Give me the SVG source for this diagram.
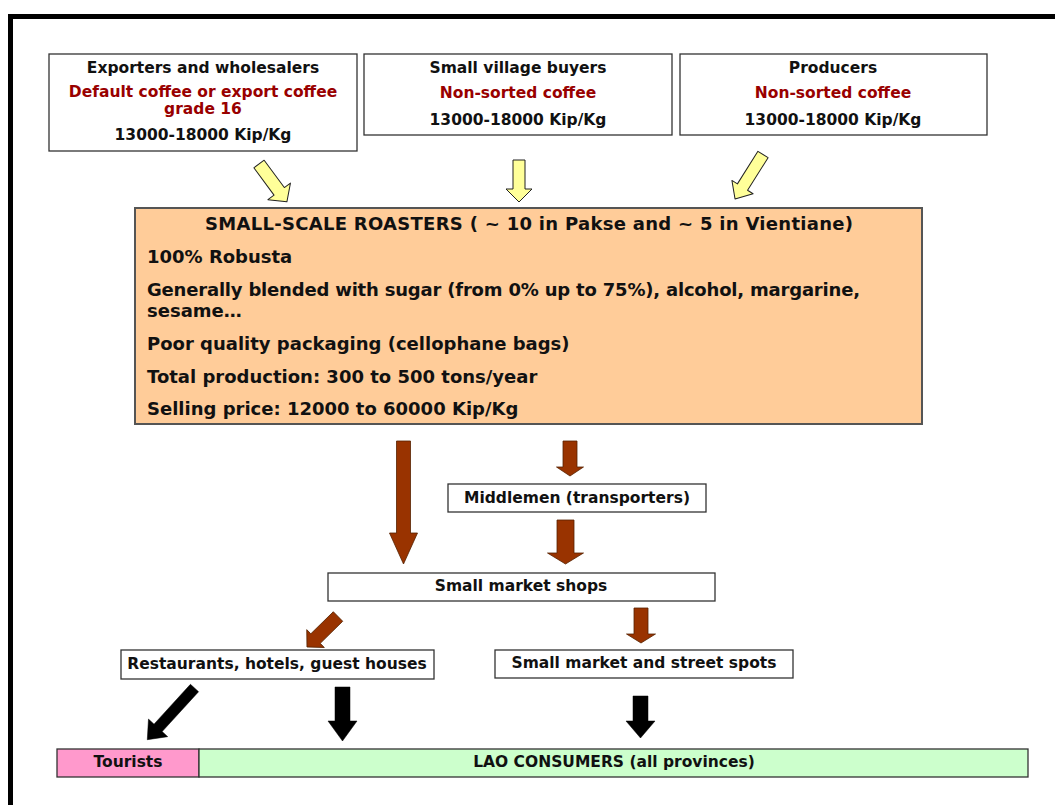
<svg xmlns="http://www.w3.org/2000/svg" width="1055" height="805" viewBox="0 0 1055 805">
<style>
  text { font-family: "DejaVu Sans", "Liberation Sans", sans-serif; font-weight: bold; fill: #111; }
  .s { font-size: 15.5px; }
  .m { font-size: 18px; }
  .red { fill: #990000; }
  .c { text-anchor: middle; }
  .box { fill: #ffffff; stroke: #333; stroke-width: 1.3; }
  .roast { fill: #FFCC99; stroke: #555; stroke-width: 2; }
  .yel { fill: #FFFF99; stroke: #222; stroke-width: 1; stroke-linejoin: round; }
  .brn { fill: #993300; stroke: #552200; stroke-width: 0.8; }
  .blk { fill: #000; stroke: #000; stroke-width: 0.5; }
</style>
<rect x="0" y="0" width="1055" height="805" fill="#ffffff"/>
<rect id="frame" x="10.5" y="16.5" width="1100" height="850" fill="none" stroke="#000" stroke-width="5"/>

<g id="exporters">
  <rect class="box" x="49" y="54" width="308" height="97"/>
  <text class="s c" x="203" y="73">Exporters and wholesalers</text>
  <text class="s c red" x="203" y="97">Default coffee or export coffee</text>
  <text class="s c red" x="203" y="113.5">grade 16</text>
  <text class="s c" x="203" y="140">13000-18000 Kip/Kg</text>
</g>
<g id="village-buyers">
  <rect class="box" x="364" y="54" width="308" height="81"/>
  <text class="s c" x="518" y="73">Small village buyers</text>
  <text class="s c red" x="518" y="98">Non-sorted coffee</text>
  <text class="s c" x="518" y="125">13000-18000 Kip/Kg</text>
</g>
<g id="producers">
  <rect class="box" x="680" y="54" width="307" height="81"/>
  <text class="s c" x="833" y="73">Producers</text>
  <text class="s c red" x="833" y="98">Non-sorted coffee</text>
  <text class="s c" x="833" y="125">13000-18000 Kip/Kg</text>
</g>
<g id="roasters">
  <rect class="roast" x="135" y="208" width="787" height="216"/>
  <text class="m c" x="529" y="229.5" textLength="648">SMALL-SCALE ROASTERS ( ~ 10 in Pakse and ~ 5 in Vientiane)</text>
  <text class="m" x="147" y="263">100% Robusta</text>
  <text class="m" x="147" y="296" textLength="713">Generally blended with sugar (from 0% up to 75%), alcohol, margarine,</text>
  <text class="m" x="147" y="317">sesame…</text>
  <text class="m" x="147" y="350">Poor quality packaging (cellophane bags)</text>
  <text class="m" x="147" y="383">Total production: 300 to 500 tons/year</text>
  <text class="m" x="147" y="415">Selling price: 12000 to 60000 Kip/Kg</text>
</g>
<g id="middlemen">
  <rect class="box" x="448" y="484" width="258" height="28"/>
  <text class="s c" x="577" y="503">Middlemen (transporters)</text>
</g>
<g id="market-shops">
  <rect class="box" x="328" y="573" width="387" height="28"/>
  <text class="s c" x="521" y="591">Small market shops</text>
</g>
<g id="restaurants">
  <rect class="box" x="121" y="650" width="313" height="29"/>
  <text class="s c" x="277" y="669">Restaurants, hotels, guest houses</text>
</g>
<g id="street-spots">
  <rect class="box" x="495" y="650" width="298" height="28"/>
  <text class="s c" x="644" y="668">Small market and street spots</text>
</g>
<g id="tourists">
  <rect x="57" y="749" width="142" height="28" fill="#FF99CC" stroke="#333" stroke-width="1.3"/>
  <text class="s c" x="128" y="767">Tourists</text>
</g>
<g id="lao-consumers">
  <rect x="199" y="749" width="829" height="28" fill="#CCFFCC" stroke="#333" stroke-width="1.3"/>
  <text class="s c" x="614" y="767">LAO CONSUMERS (all provinces)</text>
</g>

<g id="connectors">
  <!-- yellow arrows into roasters -->
  <path class="yel" transform="translate(259,164) rotate(-36.4)" d="M-6.4,0 L6.4,0 L6.4,34 L14,34 L0,47 L-14,34 L-6.4,34 Z"/>
  <path class="yel" d="M513,160 L525,160 L525,189 L532,189 L519,202 L506,189 L513,189 Z"/>
  <path class="yel" transform="translate(763,154.5) rotate(32.2)" d="M-6,0 L6,0 L6,38.5 L12.5,38.5 L0,52.5 L-12.5,38.5 L-6,38.5 Z"/>
  <!-- brown arrows -->
  <path class="brn" d="M396.5,441 L410.5,441 L410.5,533 L417.5,533 L403.5,564 L389.5,533 L396.5,533 Z"/>
  <path class="brn" d="M563,441 L577,441 L577,467 L583.5,467 L570,476 L556.5,467 L563,467 Z"/>
  <path class="brn" d="M557,520 L574,520 L574,553 L583.5,553 L565.5,564 L547.5,553 L557,553 Z"/>
  <path class="brn" transform="translate(338,616.5) rotate(45.5)" d="M-6.7,0 L6.7,0 L6.7,31.5 L12.5,31.5 L0,43.5 L-12.5,31.5 L-6.7,31.5 Z"/>
  <path class="brn" d="M634,608 L648,608 L648,634 L655.5,634 L641,643 L626.5,634 L634,634 Z"/>
  <!-- black arrows -->
  <path class="blk" transform="translate(194.5,688) rotate(42.4)" d="M-5.5,0 L5.5,0 L5.5,54 L13,54 L0,70 L-13,54 L-5.5,54 Z"/>
  <path class="blk" d="M335,687 L350,687 L350,721 L357,721 L342.5,741 L328,721 L335,721 Z"/>
  <path class="blk" d="M633,696 L648,696 L648,721 L655,721 L640.5,738 L626,721 L633,721 Z"/>
</g>
</svg>
